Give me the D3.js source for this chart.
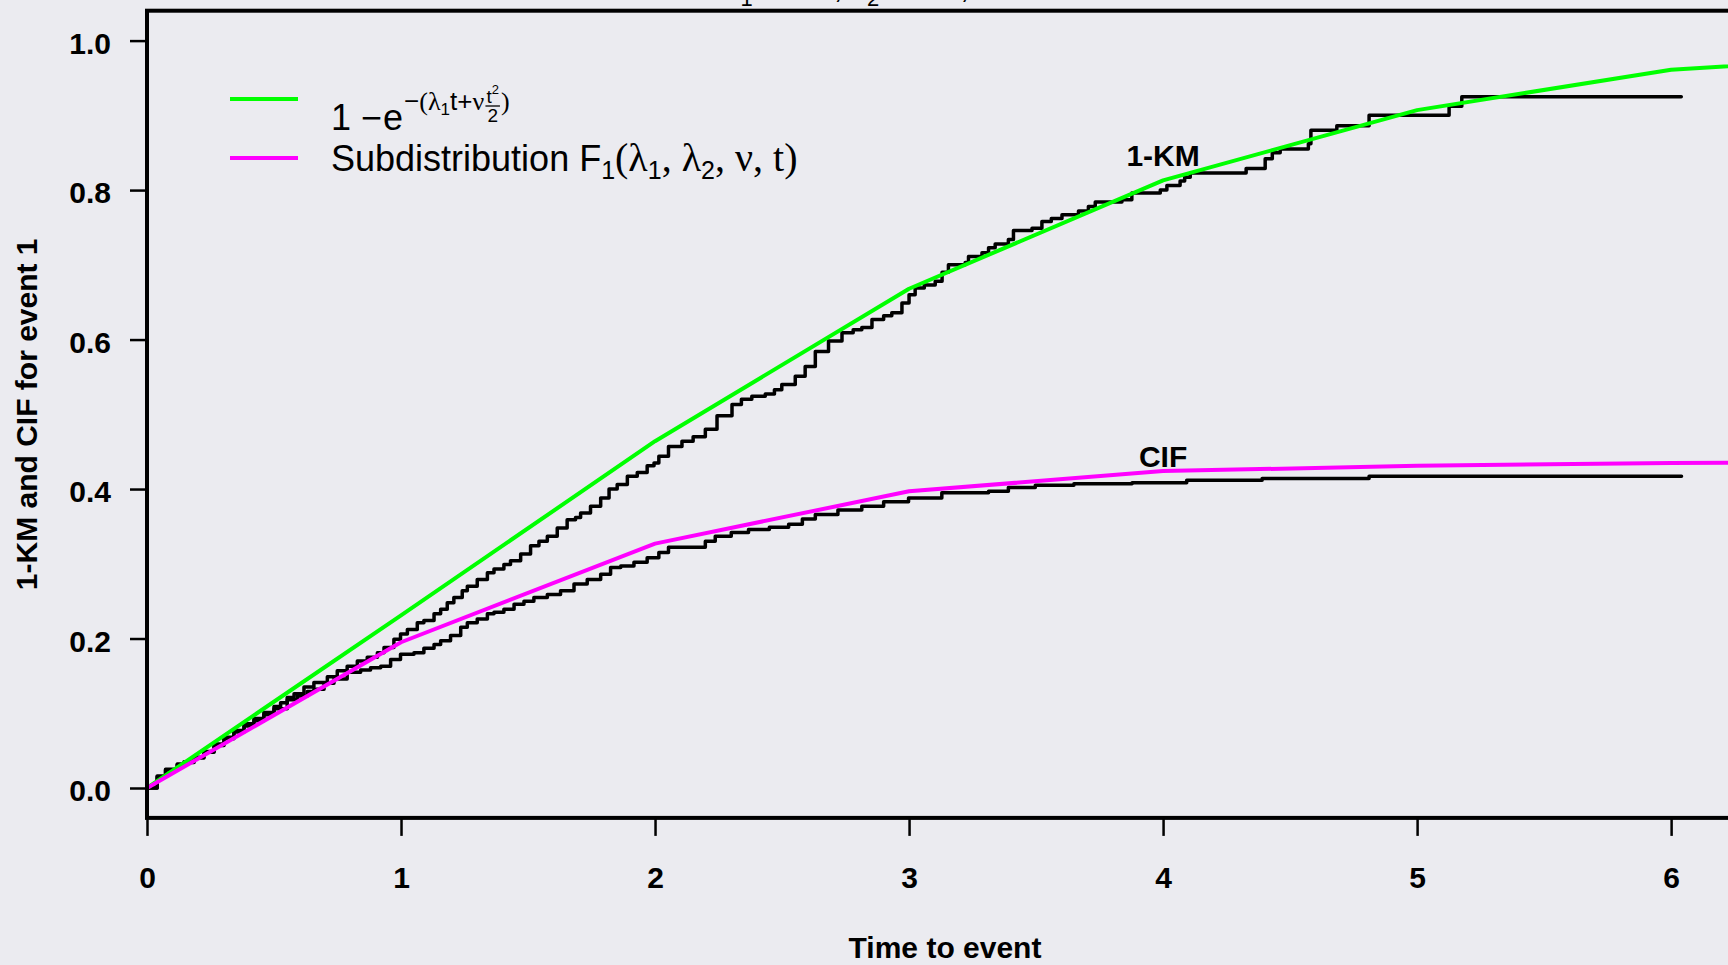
<!DOCTYPE html>
<html><head><meta charset="utf-8">
<script src="https://cdn.jsdelivr.net/npm/d3@7"></script>
<style>
html,body{margin:0;padding:0;background:#EBEBF0;overflow:hidden}
svg{display:block}
</style></head><body>
<svg id="chart" width="1728" height="965"></svg>
<script>
// ---------------- data ----------------
const gridTimes    = [0, 1, 2, 3, 4, 5, 6, 7];
const expCurve     = [0, 0.231, 0.464, 0.668, 0.813, 0.907, 0.961, 0.982];
const subdistCurve = [0, 0.195, 0.327, 0.397, 0.424, 0.431, 0.435, 0.436];

const kmTimes = [0,0.040,0.073,0.119,0.146,0.185,0.224,0.264,0.303,0.342,0.382,0.421,0.460,0.500,0.526,0.552,0.579,0.618,0.657,0.710,
  0.749,0.788,0.828,0.867,0.907,0.933,0.972,0.998,1.025,1.064,1.090,1.130,1.156,1.182,1.208,1.241,1.261,1.300,1.340,1.366,
  1.405,1.431,1.471,1.510,1.543,1.576,1.615,1.654,1.687,1.707,1.746,1.786,1.819,1.851,1.891,1.930,1.969,1.996,2.015,2.053,
  2.106,2.15,2.198,2.244,2.303,2.34,2.381,2.434,2.47,2.499,2.552,2.591,2.631,2.683,2.736,2.78,2.814,2.854,2.90,2.932,
  2.972,3.0,3.024,3.06,3.103,3.13,3.155,3.221,3.234,3.287,3.313,3.339,3.391,3.411,3.484,3.523,3.56,3.602,3.667,3.706,
  3.733,3.838,3.877,3.989,4.015,4.067,4.085,4.107,4.327,4.402,4.43,4.461,4.572,4.582,4.684,4.811,5.126,5.176,6.04];
const kmValues = [0,0.016,0.025,0.032,0.035,0.041,0.049,0.059,0.068,0.077,0.086,0.093,0.101,0.109,0.114,0.121,0.126,0.135,0.141,0.149,
  0.157,0.163,0.170,0.175,0.181,0.188,0.199,0.206,0.212,0.221,0.224,0.233,0.239,0.248,0.255,0.264,0.270,0.279,0.288,0.293,
  0.299,0.304,0.313,0.324,0.330,0.337,0.348,0.359,0.362,0.368,0.377,0.388,0.400,0.406,0.417,0.422,0.431,0.435,0.444,0.457,
  0.464,0.470,0.480,0.498,0.513,0.520,0.524,0.527,0.533,0.540,0.551,0.564,0.584,0.598,0.609,0.613,0.616,0.627,0.632,0.636,
  0.649,0.660,0.669,0.673,0.678,0.690,0.700,0.703,0.711,0.716,0.723,0.728,0.734,0.746,0.749,0.758,0.762,0.767,0.772,0.778,
  0.784,0.787,0.796,0.800,0.806,0.812,0.817,0.823,0.829,0.842,0.850,0.855,0.862,0.880,0.886,0.900,0.912,0.925,0.925];

const cifTimes = [0,0.040,0.073,0.119,0.146,0.185,0.224,0.264,0.303,0.342,0.382,0.421,0.460,0.500,0.552,0.592,0.631,0.657,0.697,0.736,
  0.788,0.841,0.880,0.920,0.959,0.998,1.051,1.090,1.130,1.156,1.195,1.235,1.261,1.300,1.340,1.366,1.405,1.445,1.484,1.523,
  1.576,1.628,1.681,1.733,1.786,1.825,1.865,1.917,1.969,2.015,2.053,2.198,2.237,2.30,2.368,2.45,2.526,2.58,2.631,2.72,
  2.814,2.90,2.998,3.129,3.313,3.391,3.497,3.649,3.878,4.093,4.39,4.811,6.041];
const cifValues = [0,0.015,0.024,0.031,0.034,0.040,0.048,0.057,0.066,0.075,0.083,0.090,0.098,0.106,0.118,0.123,0.129,0.132,0.140,0.146,
  0.155,0.158,0.161,0.163,0.172,0.179,0.181,0.187,0.192,0.197,0.204,0.215,0.221,0.226,0.233,0.235,0.239,0.246,0.250,0.255,
  0.259,0.264,0.273,0.279,0.286,0.295,0.297,0.302,0.308,0.315,0.322,0.330,0.337,0.342,0.346,0.349,0.353,0.360,0.366,0.372,
  0.377,0.383,0.388,0.395,0.397,0.402,0.405,0.407,0.4085,0.4116,0.4141,0.417,0.417];

const xTicks = [0, 1, 2, 3, 4, 5, 6];
const yTicks = [0, 0.2, 0.4, 0.6, 0.8, 1.0];
const yTickLabels = ["0.0", "0.2", "0.4", "0.6", "0.8", "1.0"];
const xTitle = "Time to event";
const yTitle = "1-KM and CIF for event 1";
const curveLabels = [{t: 4, v: 0.832, text: "1-KM"}, {t: 4, v: 0.43, text: "CIF"}];

// ---------------- layout ----------------
const SANS = "'Liberation Sans', Arial, Helvetica, sans-serif";
const SERIF = "'Liberation Serif', 'Times New Roman', serif";
const GREEN = "#00FF00", MAGENTA = "#FF00FF";
const svg = d3.select("#chart");

const x = d3.scaleLinear().domain([0, 6.283]).range([147, 1743]);
const y = d3.scaleLinear().domain([0, 1]).range([788, 40.6]);
const frameTop = y(1.04), frameBot = y(-0.04);

svg.append("defs").append("clipPath").attr("id", "plotclip")
  .append("rect").attr("x", x(0)).attr("y", frameTop)
  .attr("width", x(6.283) - x(0)).attr("height", frameBot - frameTop);

const plot = svg.append("g").attr("clip-path", "url(#plotclip)");

const toPts = (ts, vs) => ts.map((t, i) => [t, vs[i]]);
const stepLine = d3.line().x(d => x(d[0])).y(d => y(d[1])).curve(d3.curveStepAfter);
const straight = d3.line().x(d => x(d[0])).y(d => y(d[1]));

[[kmTimes, kmValues], [cifTimes, cifValues]].forEach(([ts, vs]) => {
  plot.append("path").datum(toPts(ts, vs)).attr("d", stepLine)
    .attr("fill", "none").attr("stroke", "#000").attr("stroke-width", 3.5)
    .attr("stroke-linejoin", "round").attr("stroke-linecap", "round");
});
plot.append("path").datum(toPts(gridTimes, expCurve)).attr("d", straight)
  .attr("fill", "none").attr("stroke", GREEN).attr("stroke-width", 4)
  .attr("stroke-linejoin", "round");
plot.append("path").datum(toPts(gridTimes, subdistCurve)).attr("d", straight)
  .attr("fill", "none").attr("stroke", MAGENTA).attr("stroke-width", 4)
  .attr("stroke-linejoin", "round");

// frame
svg.append("rect").attr("x", x(0)).attr("y", frameTop)
  .attr("width", x(6.283) - x(0)).attr("height", frameBot - frameTop)
  .attr("fill", "none").attr("stroke", "#000").attr("stroke-width", 4);

// axes
const yAxis = d3.axisLeft(y).tickValues(yTicks).tickFormat((d, i) => yTickLabels[i])
  .tickSize(17).tickPadding(19).tickSizeOuter(0);
const gy = svg.append("g").attr("transform", `translate(${x(0)},0)`).call(yAxis);
gy.select(".domain").remove();
gy.selectAll(".tick line").attr("stroke", "#000").attr("stroke-width", 2.5);
gy.selectAll(".tick text").attr("font-family", SANS).attr("font-weight", "bold")
  .attr("font-size", 30).attr("fill", "#000").attr("dy", "0.42em");

const xAxis = d3.axisBottom(x).tickValues(xTicks).tickFormat(d3.format("d"))
  .tickSize(18).tickPadding(31).tickSizeOuter(0);
const gx = svg.append("g").attr("transform", `translate(0,${frameBot})`).call(xAxis);
gx.select(".domain").remove();
gx.selectAll(".tick line").attr("stroke", "#000").attr("stroke-width", 2.5);
gx.selectAll(".tick text").attr("font-family", SANS).attr("font-weight", "bold")
  .attr("font-size", 30).attr("fill", "#000");

// axis titles
svg.append("text").attr("x", (x(0) + x(6.283)) / 2).attr("y", 958)
  .attr("text-anchor", "middle").attr("font-family", SANS).attr("font-weight", "bold")
  .attr("font-size", 30).text(xTitle);
svg.append("text").attr("transform", `translate(37,${(frameTop + frameBot) / 2}) rotate(-90)`)
  .attr("text-anchor", "middle").attr("font-family", SANS).attr("font-weight", "bold")
  .attr("font-size", 30).text(yTitle);

// curve labels
svg.selectAll("text.clab").data(curveLabels).enter().append("text").attr("class", "clab")
  .attr("x", d => x(d.t)).attr("y", d => y(d.v))
  .attr("text-anchor", "middle").attr("font-family", SANS).attr("font-weight", "bold")
  .attr("font-size", 30).text(d => d.text);

// partially visible title at the very top (cut off by the page edge in the reference)
const title = svg.append("text").attr("y", -2).attr("font-size", 32).attr("font-family", SANS)
  .attr("x", 725);
title.append("tspan").attr("font-family", SERIF).text("\u03BB");
title.append("tspan").attr("font-size", 22).attr("dy", 8).text("1");
title.append("tspan").attr("dy", -8).text(" = 0.2, ");
title.append("tspan").attr("font-family", SERIF).text("\u03BB");
title.append("tspan").attr("font-size", 22).attr("dy", 8).text("2");
title.append("tspan").attr("dy", -8).text(" = 0.1, ");
title.append("tspan").attr("font-family", SERIF).text("\u03BD");
title.append("tspan").text(" = 0.1");

// ---------------- legend ----------------
const leg = svg.append("g");
leg.append("line").attr("x1", 230).attr("x2", 298).attr("y1", 99).attr("y2", 99)
  .attr("stroke", GREEN).attr("stroke-width", 4);
leg.append("line").attr("x1", 230).attr("x2", 298).attr("y1", 158).attr("y2", 158)
  .attr("stroke", MAGENTA).attr("stroke-width", 4);

// 1 - e^{-(lambda1 t + nu t^2/2)}
const e1 = leg.append("text").attr("x", 331).attr("y", 130).attr("font-size", 36)
  .attr("font-family", SANS);
e1.append("tspan").text("1 ");
e1.append("tspan").text("\u2212");
e1.append("tspan").attr("dx", 1).text("e");
let bb = e1.node().getBBox();
const supBase = 110;
const sup = leg.append("text").attr("x", bb.x + bb.width + 1).attr("y", supBase)
  .attr("font-size", 26).attr("font-family", SANS);
sup.append("tspan").text("\u2212");
sup.append("tspan").attr("font-family", SERIF).text("(\u03BB");
sup.append("tspan").attr("font-size", 17).attr("dy", 5).text("1");
sup.append("tspan").attr("dy", -5).text("t+");
sup.append("tspan").attr("font-family", SERIF).text("\u03BD");
bb = sup.node().getBBox();
const fx = bb.x + bb.width + 1;
const num = leg.append("text").attr("x", fx + 1).attr("y", 103).attr("font-size", 19)
  .attr("font-family", SANS);
num.append("tspan").text("t");
num.append("tspan").attr("font-size", 13).attr("dy", -9).text("2");
const nb = num.node().getBBox();
const fw = nb.width + 2;
leg.append("line").attr("x1", fx).attr("x2", fx + fw).attr("y1", 106).attr("y2", 106)
  .attr("stroke", "#000").attr("stroke-width", 1.3);
leg.append("text").attr("x", fx + fw / 2).attr("y", 122).attr("font-size", 19)
  .attr("font-family", SANS).attr("text-anchor", "middle").text("2");
leg.append("text").attr("x", fx + fw + 1).attr("y", supBase).attr("font-size", 26)
  .attr("font-family", SERIF).text(")");

// Subdistribution F1(lambda1, lambda2, nu, t)
const e2 = leg.append("text").attr("x", 331).attr("y", 171).attr("font-size", 36)
  .attr("font-family", SANS);
e2.append("tspan").text("Subdistribution F");
e2.append("tspan").attr("font-size", 25).attr("dy", 8).text("1");
e2.append("tspan").attr("font-family", SERIF).attr("font-size", 40).attr("dy", -8).text("(\u03BB");
e2.append("tspan").attr("font-size", 25).attr("dy", 8).text("1");
e2.append("tspan").attr("font-family", SERIF).attr("font-size", 40).attr("dy", -8).text(", \u03BB");
e2.append("tspan").attr("font-size", 25).attr("dy", 8).text("2");
e2.append("tspan").attr("font-family", SERIF).attr("font-size", 40).attr("dy", -8).text(", \u03BD, t)");
</script>
</body></html>
